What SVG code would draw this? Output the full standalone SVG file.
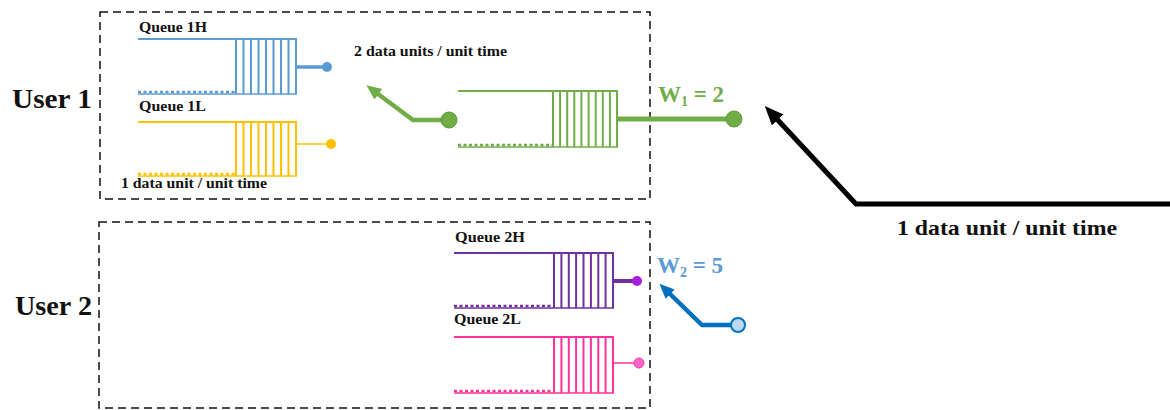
<svg xmlns="http://www.w3.org/2000/svg" width="1170" height="410" viewBox="0 0 1170 410">
<defs>
<style>
text{font-family:"Liberation Serif","Times New Roman",serif;font-weight:bold;fill:#111}
.box{fill:none;stroke:#111;stroke-width:1.5;stroke-dasharray:8 5}
.top{stroke-width:2}
.str{stroke-width:2;fill:none}
.bot{stroke-width:1.5}
.dash{stroke-width:2.5;stroke-dasharray:3 2.5}
.lbl{font-size:15px}
.big{font-size:27px}
</style>
<marker id="ah-black" markerUnits="userSpaceOnUse" markerWidth="20" markerHeight="18" refX="4" refY="8" orient="auto"><path d="M0,0 L19,8 L0,16 z" fill="#000"/></marker>
<marker id="ah-green" markerUnits="userSpaceOnUse" markerWidth="16" markerHeight="14" refX="3" refY="6.5" orient="auto"><path d="M0,0 L15,6.5 L0,13 z" fill="#70AD47"/></marker>
<marker id="ah-blue" markerUnits="userSpaceOnUse" markerWidth="16" markerHeight="14" refX="3" refY="6.5" orient="auto"><path d="M0,0 L15,6.5 L0,13 z" fill="#0070C0"/></marker>
</defs>
<rect width="1170" height="410" fill="#fff"/>

<g id="user1">
<rect class="box" x="100" y="12" width="550" height="187"/>
<text class="big" x="12" y="108" textLength="80" lengthAdjust="spacingAndGlyphs">User 1</text>
</g>
<g id="user2">
<rect class="box" x="99" y="222" width="551" height="186"/>
<text class="big" x="15" y="315" textLength="77" lengthAdjust="spacingAndGlyphs">User 2</text>
</g>

<g id="queue-1h" stroke="#5B9BD5">
<text class="lbl" x="139" y="32" textLength="68" lengthAdjust="spacingAndGlyphs" stroke="none">Queue 1H</text>
<line class="top" x1="138" y1="39" x2="297" y2="39"/>
<path class="str" d="M236,39V94M243.5,39V94M251,39V94M258.5,39V94M266,39V94M273.5,39V94M281,39V94M288.5,39V94M296,39V94"/>
<line class="bot" x1="138" y1="94" x2="297" y2="94"/>
<line class="dash" x1="138" y1="92" x2="236" y2="92"/>
<line x1="296" y1="67" x2="327" y2="67" stroke-width="3.5"/>
<circle cx="327" cy="67" r="5" fill="#5B9BD5" stroke="none"/>
</g>

<g id="queue-1l" stroke="#FFC000">
<text class="lbl" x="139" y="111" textLength="67" lengthAdjust="spacingAndGlyphs" stroke="none">Queue 1L</text>
<line class="top" x1="138" y1="122" x2="297" y2="122"/>
<path class="str" d="M236,122V176M243.5,122V176M251,122V176M258.5,122V176M266,122V176M273.5,122V176M281,122V176M288.5,122V176M296,122V176"/>
<line class="bot" x1="138" y1="176" x2="297" y2="176"/>
<line class="dash" x1="138" y1="174" x2="236" y2="174"/>
<line x1="296" y1="144" x2="331" y2="144" stroke-width="1.5"/>
<circle cx="331" cy="144" r="5" fill="#FFC000" stroke="none"/>
</g>

<text x="121" y="188" font-size="14" textLength="146" lengthAdjust="spacingAndGlyphs">1 data unit / unit time</text>
<text x="354" y="56" font-size="14" textLength="153" lengthAdjust="spacingAndGlyphs">2 data units / unit time</text>

<g id="queue-shared" stroke="#70AD47">
<line class="top" x1="458" y1="91" x2="618" y2="91"/>
<path class="str" d="M553,91V147M560.1,91V147M567.2,91V147M574.3,91V147M581.4,91V147M588.6,91V147M595.7,91V147M602.8,91V147M609.9,91V147M617,91V147"/>
<line class="bot" x1="458" y1="147" x2="618" y2="147"/>
<line class="dash" x1="458" y1="145" x2="553" y2="145"/>
<line x1="617" y1="119" x2="734" y2="119" stroke-width="5"/>
<circle cx="734" cy="119" r="8" fill="#70AD47" stroke="#5E9A3A" stroke-width="1"/>
<text x="658" y="102" font-size="23" fill="#70AD47" stroke="none" style="fill:#70AD47">W<tspan font-size="14" dy="4">1</tspan><tspan dy="-4"> = 2</tspan></text>
</g>

<g id="queue-2h" stroke="#7030A0">
<text class="lbl" x="455" y="242" textLength="70" lengthAdjust="spacingAndGlyphs" stroke="none">Queue 2H</text>
<line class="top" x1="454" y1="253" x2="614" y2="253"/>
<path class="str" d="M554,253V308M561.4,253V308M568.8,253V308M576.1,253V308M583.5,253V308M590.9,253V308M598.3,253V308M605.6,253V308M613,253V308"/>
<line class="bot" x1="454" y1="308" x2="614" y2="308"/>
<line class="dash" x1="454" y1="306" x2="554" y2="306"/>
<line x1="613" y1="281" x2="637" y2="281" stroke-width="4"/>
<circle cx="637" cy="281" r="5" fill="#A61EE0" stroke="none"/>
</g>

<g id="queue-2l" stroke="#FF3399">
<text class="lbl" x="454" y="324" textLength="67" lengthAdjust="spacingAndGlyphs" stroke="none">Queue 2L</text>
<line class="top" x1="454" y1="337" x2="614" y2="337"/>
<path class="str" d="M554,337V393M561.4,337V393M568.8,337V393M576.1,337V393M583.5,337V393M590.9,337V393M598.3,337V393M605.6,337V393M613,337V393"/>
<line class="bot" x1="454" y1="393" x2="614" y2="393"/>
<line class="dash" x1="454" y1="391" x2="554" y2="391"/>
<line x1="613" y1="363" x2="639" y2="363" stroke-width="1.5"/>
<circle cx="639" cy="363" r="5" fill="#FF66CC" stroke="#FF3399" stroke-width="1"/>
</g>

<text id="w2" x="657" y="273" font-size="23" style="fill:#5B9BD5">W<tspan font-size="14" dy="4">2</tspan><tspan dy="-4"> = 5</tspan></text>

<g id="connectors" fill="none" stroke-linejoin="miter">
<path d="M449,120 H413 L376,92.5" stroke="#70AD47" stroke-width="4.5" marker-end="url(#ah-green)"/>
<circle cx="449" cy="120" r="8" fill="#70AD47" stroke="#5E9A3A" stroke-width="1"/>
<path d="M1172,204 H856 L775,117" stroke="#000" stroke-width="5" marker-end="url(#ah-black)"/>
<path d="M738,325 H702 L668,292" stroke="#0070C0" stroke-width="4.5" marker-end="url(#ah-blue)"/>
<circle cx="738" cy="325" r="7" fill="#BDD7EE" stroke="#0070C0" stroke-width="2"/>
</g>
<text x="897" y="235" font-size="22" textLength="220" lengthAdjust="spacingAndGlyphs">1 data unit / unit time</text>
</svg>
